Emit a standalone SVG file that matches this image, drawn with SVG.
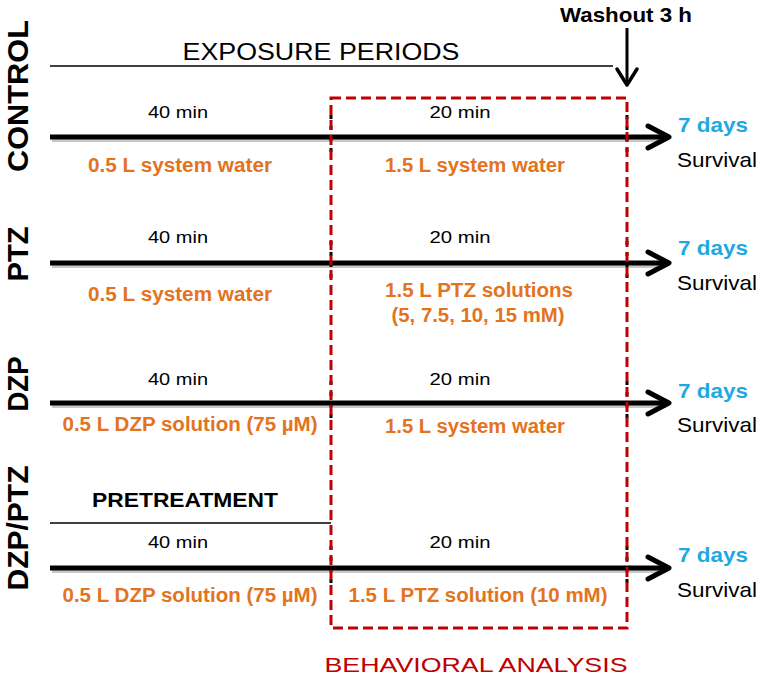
<svg xmlns="http://www.w3.org/2000/svg" width="762" height="680" viewBox="0 0 762 680">
<defs>
<style>
.lab{font-family:"Liberation Sans",Arial,sans-serif;font-weight:bold;font-size:30px;fill:#000;text-anchor:middle}
.min{font-family:"Liberation Sans",Arial,sans-serif;font-size:17px;fill:#000;text-anchor:middle}
.or{font-family:"Liberation Sans",Arial,sans-serif;font-weight:bold;font-size:20px;fill:#E3731E;text-anchor:middle}
.days{font-family:"Liberation Sans",Arial,sans-serif;font-weight:bold;font-size:21px;fill:#1FA9E1}
.surv{font-family:"Liberation Sans",Arial,sans-serif;font-size:21px;fill:#000}
.main{stroke:#000;stroke-width:5;fill:none}
.shadow{stroke:#c8c8c8;stroke-width:4;fill:none}
.head{stroke:#000;stroke-width:5;fill:none;stroke-linecap:round;stroke-linejoin:round}
.tick{stroke:#000;stroke-width:3;stroke-dasharray:4 7}
</style>
</defs>
<rect width="762" height="680" fill="#fff"/>

<g id="header">
<text x="321" y="60" font-family="'Liberation Sans',Arial,sans-serif" font-size="24" text-anchor="middle" textLength="277" lengthAdjust="spacingAndGlyphs">EXPOSURE PERIODS</text>
<line x1="50" y1="66" x2="613" y2="66" stroke="#000" stroke-width="1.5"/>
<text x="626" y="22" font-family="'Liberation Sans',Arial,sans-serif" font-weight="bold" font-size="21" text-anchor="middle" textLength="132" lengthAdjust="spacingAndGlyphs">Washout 3 h</text>
</g>

<g id="labels">
<text class="lab" transform="translate(28,96) rotate(-90)" textLength="152" lengthAdjust="spacingAndGlyphs">CONTROL</text>
<text class="lab" transform="translate(28,254) rotate(-90)" textLength="55" lengthAdjust="spacingAndGlyphs">PTZ</text>
<text class="lab" transform="translate(28,384) rotate(-90)" textLength="55" lengthAdjust="spacingAndGlyphs">DZP</text>
<text class="lab" transform="translate(28,528) rotate(-90)" textLength="125" lengthAdjust="spacingAndGlyphs">DZP/PTZ</text>
</g>

<g id="connectors">
<line class="shadow" x1="52" y1="140" x2="666" y2="140"/>
<line class="shadow" x1="52" y1="266" x2="666" y2="266"/>
<line class="shadow" x1="52" y1="406" x2="666" y2="406"/>
<line class="shadow" x1="52" y1="571" x2="666" y2="571"/>
<line class="main" x1="50" y1="137" x2="668" y2="137"/>
<polyline class="head" points="648,126 669,137 648,148"/>
<line class="main" x1="50" y1="263" x2="668" y2="263"/>
<polyline class="head" points="648,252 669,263 648,274"/>
<line class="main" x1="50" y1="403" x2="668" y2="403"/>
<polyline class="head" points="648,392 669,403 648,414"/>
<line class="main" x1="50" y1="568" x2="668" y2="568"/>
<polyline class="head" points="648,557 669,568 648,579"/>
<line x1="627" y1="28" x2="627" y2="84" stroke="#000" stroke-width="3"/>
<polyline points="617,69 627,85 637,69" fill="none" stroke="#000" stroke-width="3.5" stroke-linecap="round" stroke-linejoin="round"/>
<line class="tick" x1="331" y1="115" x2="331" y2="158"/>
<line class="tick" x1="627" y1="115" x2="627" y2="158"/>
<line class="tick" x1="331" y1="241" x2="331" y2="284"/>
<line class="tick" x1="627" y1="241" x2="627" y2="284"/>
<line class="tick" x1="331" y1="381" x2="331" y2="424"/>
<line class="tick" x1="627" y1="381" x2="627" y2="424"/>
<line class="tick" x1="331" y1="546" x2="331" y2="589"/>
<line class="tick" x1="627" y1="546" x2="627" y2="589"/>
</g>

<g id="behavioral">
<rect x="331" y="98" width="296" height="530" fill="none" stroke="#C00000" stroke-width="3" stroke-dasharray="10 5"/>
<text x="476" y="672" font-family="'Liberation Sans',Arial,sans-serif" font-size="21" fill="#C00000" text-anchor="middle" textLength="303" lengthAdjust="spacingAndGlyphs">BEHAVIORAL ANALYSIS</text>
</g>

<g id="control">
<text class="min" x="178" y="118" textLength="60" lengthAdjust="spacingAndGlyphs">40 min</text>
<text class="min" x="460" y="118" textLength="61" lengthAdjust="spacingAndGlyphs">20 min</text>
<text class="or" x="180" y="172" textLength="184" lengthAdjust="spacingAndGlyphs">0.5 L system water</text>
<text class="or" x="475" y="172" textLength="180" lengthAdjust="spacingAndGlyphs">1.5 L system water</text>
<text class="days" x="678" y="132" textLength="70" lengthAdjust="spacingAndGlyphs">7 days</text>
<text class="surv" x="677" y="167" textLength="80" lengthAdjust="spacingAndGlyphs">Survival</text>
</g>

<g id="ptz">
<text class="min" x="178" y="243" textLength="60" lengthAdjust="spacingAndGlyphs">40 min</text>
<text class="min" x="460" y="243" textLength="61" lengthAdjust="spacingAndGlyphs">20 min</text>
<text class="or" x="180" y="301" textLength="184" lengthAdjust="spacingAndGlyphs">0.5 L system water</text>
<text class="or" x="479" y="297" textLength="188" lengthAdjust="spacingAndGlyphs">1.5 L PTZ solutions</text>
<text class="or" x="478" y="322" textLength="173" lengthAdjust="spacingAndGlyphs">(5, 7.5, 10, 15 mM)</text>
<text class="days" x="678" y="255" textLength="70" lengthAdjust="spacingAndGlyphs">7 days</text>
<text class="surv" x="677" y="290" textLength="80" lengthAdjust="spacingAndGlyphs">Survival</text>
</g>

<g id="dzp">
<text class="min" x="178" y="385" textLength="60" lengthAdjust="spacingAndGlyphs">40 min</text>
<text class="min" x="460" y="385" textLength="61" lengthAdjust="spacingAndGlyphs">20 min</text>
<text class="or" x="190" y="431" textLength="255" lengthAdjust="spacingAndGlyphs">0.5 L DZP solution (75 µM)</text>
<text class="or" x="475" y="433" textLength="180" lengthAdjust="spacingAndGlyphs">1.5 L system water</text>
<text class="days" x="678" y="398" textLength="70" lengthAdjust="spacingAndGlyphs">7 days</text>
<text class="surv" x="677" y="432" textLength="80" lengthAdjust="spacingAndGlyphs">Survival</text>
</g>

<g id="dzp-ptz">
<text x="185" y="507" font-family="'Liberation Sans',Arial,sans-serif" font-weight="bold" font-size="21" text-anchor="middle" textLength="186" lengthAdjust="spacingAndGlyphs">PRETREATMENT</text>
<line x1="50" y1="523" x2="331" y2="523" stroke="#000" stroke-width="1.5"/>
<text class="min" x="178" y="548" textLength="60" lengthAdjust="spacingAndGlyphs">40 min</text>
<text class="min" x="460" y="548" textLength="61" lengthAdjust="spacingAndGlyphs">20 min</text>
<text class="or" x="190" y="602" textLength="255" lengthAdjust="spacingAndGlyphs">0.5 L DZP solution (75 µM)</text>
<text class="or" x="478" y="602" textLength="259" lengthAdjust="spacingAndGlyphs">1.5 L PTZ solution (10 mM)</text>
<text class="days" x="678" y="562" textLength="70" lengthAdjust="spacingAndGlyphs">7 days</text>
<text class="surv" x="677" y="597" textLength="80" lengthAdjust="spacingAndGlyphs">Survival</text>
</g>
</svg>
